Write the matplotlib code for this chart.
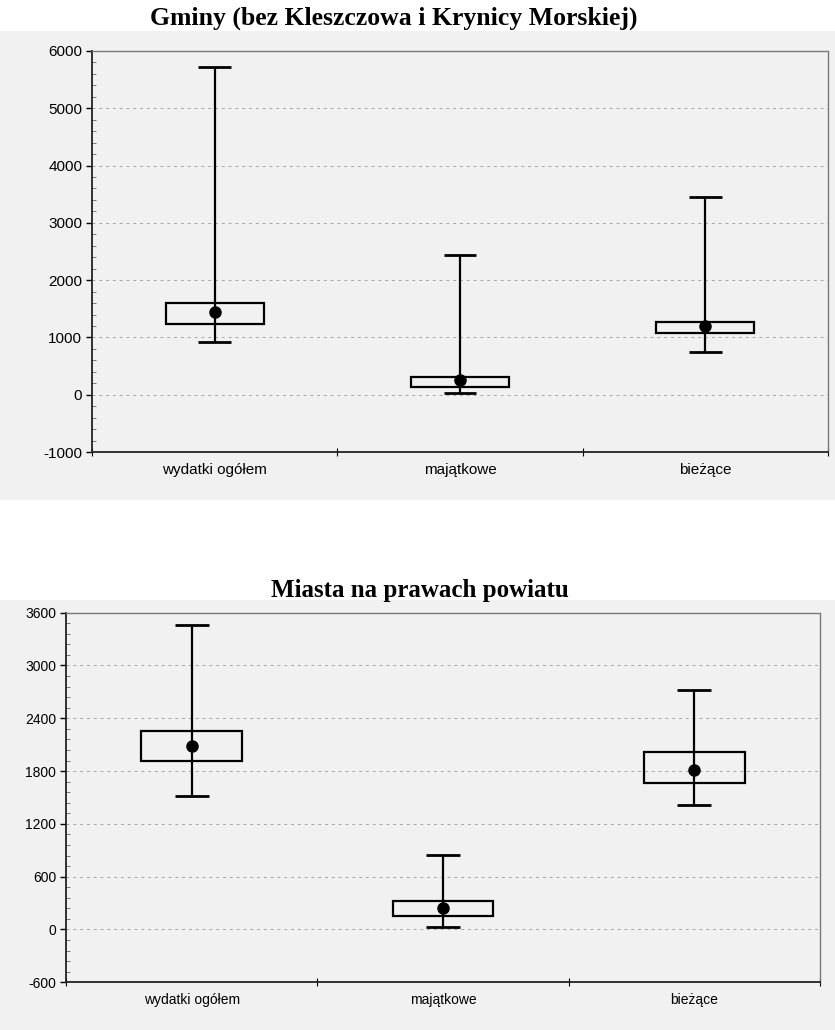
import matplotlib
matplotlib.use("Agg")
import matplotlib.pyplot as plt
from matplotlib.patches import Rectangle
from matplotlib.ticker import MultipleLocator, FixedLocator, NullFormatter

# ---- data ----
categories = ["wydatki ogółem", "majątkowe", "bieżące"]

gminy_title = "Gminy (bez Kleszczowa i Krynicy Morskiej)"
gminy_min = [920, 30, 738]
gminy_q1 = [1240, 128, 1077]
gminy_mean = [1436, 250, 1192]
gminy_q3 = [1600, 302, 1274]
gminy_max = [5712, 2431, 3443]
gminy_yticks = [-1000, 0, 1000, 2000, 3000, 4000, 5000, 6000]

miasta_title = "Miasta na prawach powiatu"
miasta_min = [1515, 23, 1413]
miasta_q1 = [1913, 148, 1667]
miasta_mean = [2083, 246, 1818]
miasta_q3 = [2258, 322, 2015]
miasta_max = [3458, 844, 2727]
miasta_yticks = [-600, 0, 600, 1200, 1800, 2400, 3000, 3600]

W, H = 835, 1030
fig = plt.figure(figsize=(W / 100, H / 100), dpi=100)
fig.patch.set_facecolor("white")

BG = "#f1f1f1"
# scanned grey background regions
fig.add_artist(Rectangle((0, 1 - 500 / H), 1, (500 - 31) / H, transform=fig.transFigure,
                         facecolor=BG, edgecolor="none", zorder=-10))
fig.add_artist(Rectangle((0, 0), 1, (H - 600) / H, transform=fig.transFigure,
                         facecolor=BG, edgecolor="none", zorder=-10))


def panel(rect, mins, q1s, means, q3s, maxs, yticks, minor_step, tick_fs, cat_fs):
    ax = fig.add_axes(rect)
    ax.set_facecolor("none")
    x = list(range(len(categories)))
    # boxes
    ax.bar(x, [b - a for a, b in zip(q1s, q3s)], bottom=q1s, width=0.40,
           facecolor="none", edgecolor="black", linewidth=1.6, zorder=3)
    # whiskers
    ax.vlines(x, mins, maxs, color="black", linewidth=1.6, zorder=3)
    ax.hlines(maxs, [i - 0.067 for i in x], [i + 0.067 for i in x], color="black", linewidth=2.0, zorder=3)
    ax.hlines(mins, [i - 0.067 for i in x], [i + 0.067 for i in x], color="black", linewidth=2.0, zorder=3)
    # means
    ax.plot(x, means, "o", color="black", markersize=8, linestyle="none", zorder=4)

    ax.set_xlim(-0.5, len(categories) - 0.5)
    ax.set_ylim(yticks[0], yticks[-1])
    ax.yaxis.set_major_locator(FixedLocator(yticks))
    ax.yaxis.set_minor_locator(MultipleLocator(minor_step))
    ax.set_yticklabels([str(t) for t in yticks], fontsize=tick_fs, family="Liberation Sans")
    ax.tick_params(axis="y", which="major", direction="out", length=4, width=1.0, pad=3)
    ax.tick_params(axis="y", which="minor", direction="in", length=3, width=0.6, colors="#666666")

    ax.xaxis.set_major_locator(FixedLocator([-0.5, 0.5, 1.5, 2.5]))
    ax.xaxis.set_major_formatter(NullFormatter())
    ax.xaxis.set_minor_locator(FixedLocator(x))
    ax.set_xticklabels(categories, minor=True, fontsize=cat_fs, family="Liberation Sans")
    ax.tick_params(axis="x", which="major", direction="inout", length=6, width=0.8)
    ax.tick_params(axis="x", which="minor", length=0, pad=8)

    for t in yticks[1:-1]:
        ax.axhline(t, color="#a5a5a5", linewidth=0.7, linestyle=(0, (3, 4)), zorder=1)

    ax.spines["left"].set_linewidth(1.3)
    ax.spines["bottom"].set_linewidth(1.3)
    ax.spines["left"].set_color("#222222")
    ax.spines["bottom"].set_color("#222222")
    for s in ("top", "right"):
        ax.spines[s].set_linewidth(1.0)
        ax.spines[s].set_color("#777777")
        ax.spines[s].set_linestyle((0, (1, 1)))
    return ax


ax1 = panel([92 / W, 1 - 452 / H, 736 / W, 401 / H],
            gminy_min, gminy_q1, gminy_mean, gminy_q3, gminy_max, gminy_yticks, 200, 11, 11)
ax2 = panel([66 / W, 1 - 982.3 / H, 754 / W, 369.6 / H],
            miasta_min, miasta_q1, miasta_mean, miasta_q3, miasta_max, miasta_yticks, 120, 10, 10)

fig.text(394 / W, 1 - 18 / H, gminy_title, ha="center", va="center",
         fontsize=18.5, fontweight="bold", family="Liberation Serif")
fig.text(420 / W, 1 - 590 / H, miasta_title, ha="center", va="center",
         fontsize=18, fontweight="bold", family="Liberation Serif")

fig.savefig("out.png", dpi=100)
